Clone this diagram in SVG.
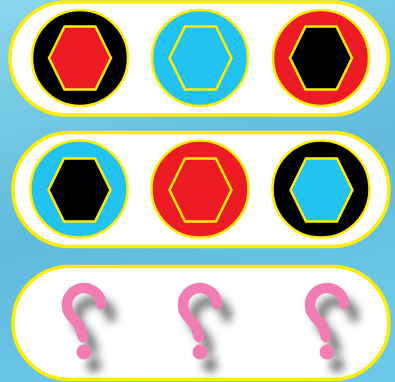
<svg xmlns="http://www.w3.org/2000/svg" width="395" height="382" viewBox="0 0 395 382">
<defs>
<linearGradient id="bg" x1="0" y1="0" x2="0.3" y2="1">
<stop offset="0" stop-color="#8ad6ec"/>
<stop offset="0.35" stop-color="#70c6e2"/>
<stop offset="0.6" stop-color="#5fbadc"/>
<stop offset="1" stop-color="#6cc8e8"/>
</linearGradient>
<polygon id="hex" points="-31,0 -15.5,-31.5 15.5,-31.5 31,0 15.5,31.5 -15.5,31.5"/>
<filter id="blur" x="-50%" y="-50%" width="200%" height="200%"><feGaussianBlur stdDeviation="4"/></filter>
<g id="qm">
<path d="M17,-2 A17,17 0 0 0 -17,0 C-17,10 -6,15 -4,21 L-1,31" fill="none" stroke-width="10.5" stroke-linecap="round" stroke-linejoin="round"/>
<circle cx="0" cy="46" r="7.5" stroke="none"/>
</g>
</defs>
<style>
.panel{fill:#fff;stroke:#ffec00;stroke-width:3.5}
.disc{stroke:#ffec00;stroke-width:2.5}
.hx{stroke:#ffec00;stroke-width:2.5}
.k{fill:#000}.r{fill:#ed1c24}.c{fill:#22c3f0}
.q{stroke:#f27db2;fill:#f27db2}
.qs{stroke:#5a5a5a;fill:#5a5a5a;opacity:0.8;filter:url(#blur)}
</style>
<rect width="395" height="382" fill="url(#bg)"/>
<g id="row1">
<rect class="panel" x="10" y="2" width="378" height="113" rx="56.5"/>
<g id="n1"><circle class="disc k" cx="80" cy="58" r="48"/><use href="#hex" class="hx r" x="80" y="58"/></g>
<g id="n2"><circle class="disc c" cx="200" cy="58" r="48"/><use href="#hex" class="hx c" x="200.5" y="58"/></g>
<g id="n3"><circle class="disc r" cx="321" cy="58" r="48"/><use href="#hex" class="hx k" x="321" y="58"/></g>
</g>
<g id="row2">
<rect class="panel" x="13" y="132.5" width="376" height="114" rx="57"/>
<g id="n4"><circle class="disc c" cx="79" cy="189" r="48.5"/><use href="#hex" class="hx k" x="79.5" y="190"/></g>
<g id="n5"><circle class="disc r" cx="200" cy="189" r="48.5"/><use href="#hex" class="hx r" x="200.5" y="190"/></g>
<g id="n6"><circle class="disc k" cx="321" cy="189" r="48.5"/><use href="#hex" class="hx c" x="321.5" y="190"/></g>
</g>
<g id="row3">
<rect class="panel" x="13" y="266.5" width="376" height="113" rx="56.5"/>
<g id="q1"><use href="#qm" class="qs" x="94" y="319"/><use href="#qm" class="q" x="84" y="306"/></g>
<g id="q2"><use href="#qm" class="qs" x="210" y="319"/><use href="#qm" class="q" x="200" y="306"/></g>
<g id="q3"><use href="#qm" class="qs" x="337" y="319"/><use href="#qm" class="q" x="327" y="306"/></g>
</g>
<g id="connectors"/>
</svg>
